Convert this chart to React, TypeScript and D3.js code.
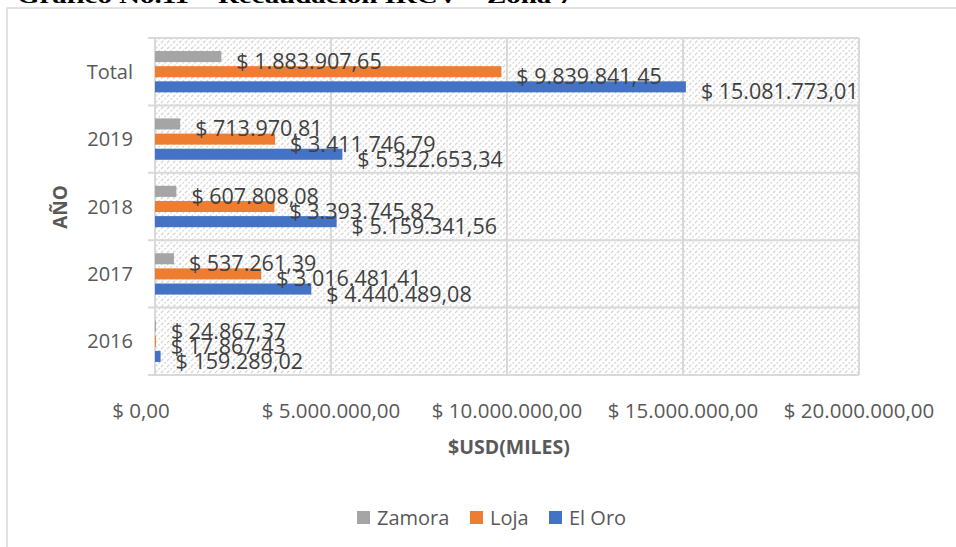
import React from "react";
import * as d3 from "d3";

const categories = ["Total", "2019", "2018", "2017", "2016"];
const seriesNames = ["Zamora", "Loja", "El Oro"];
const zamora = [1883907.65, 713970.81, 607808.08, 537261.39, 24867.37];
const loja = [9839841.45, 3411746.79, 3393745.82, 3016481.41, 17867.43];
const elOro = [15081773.01, 5322653.34, 5159341.56, 4440489.08, 159289.02];
const colors = ["#A5A5A5", "#ED7D31", "#4472C4"];
const xTicks = [0, 5000000, 10000000, 15000000, 20000000];
const xTickLabels = ["$ 0,00", "$ 5.000.000,00", "$ 10.000.000,00", "$ 15.000.000,00", "$ 20.000.000,00"];
const dataLabels = [
  ["$ 1.883.907,65", "$ 713.970,81", "$ 607.808,08", "$ 537.261,39", "$ 24.867,37"],
  ["$ 9.839.841,45", "$ 3.411.746,79", "$ 3.393.745,82", "$ 3.016.481,41", "$ 17.867,43"],
  ["$ 15.081.773,01", "$ 5.322.653,34", "$ 5.159.341,56", "$ 4.440.489,08", "$ 159.289,02"],
];
const title = "Gráfico No.11 – Recaudación IRCV – Zona 7";

export default function App() {
  const W = 956, H = 547;
  const left = 155, right = 859, top = 38, bottom = 375;
  const x = d3.scaleLinear().domain([0, 20000000]).range([left, right]);
  const y = d3.scaleBand().domain(categories).range([top, bottom]).padding(0);
  const inner = d3.scaleBand().domain(seriesNames).range([0, y.bandwidth()]).paddingInner(0.27).paddingOuter(0.86);
  const values = [zamora, loja, elOro];
  const font = "'Open Sans', 'DejaVu Sans', sans-serif";
  const grid = "#d9d9d9";

  return (
    <svg width={W} height={H} style={{ position: "absolute", left: 0, top: 0, background: "#fff" }} fontFamily={font}>
      <defs>
        <pattern id="hatch" width="6" height="6" patternUnits="userSpaceOnUse">
          <rect width="6" height="6" fill="#ffffff" />
          <path d="M0,6 L6,0" stroke="#d6d6d6" strokeWidth="1.3" strokeDasharray="2,1.5" />
          <path d="M-1,1 L1,-1 M5,7 L7,5" stroke="#d6d6d6" strokeWidth="1.3" />
        </pattern>
      </defs>
      <text x={17} y={3} fontFamily="'Liberation Serif', serif" fontWeight="bold" fontSize={22} fill="#000" textLength={556} lengthAdjust="spacingAndGlyphs">{title}</text>
      <rect x={7} y={8} width={W + 20} height={H + 20} fill="none" stroke={grid} strokeWidth={1.5} />
      <rect x={left} y={top} width={right - left} height={bottom - top} fill="url(#hatch)" />
      {xTicks.map((t, i) => (
        <line key={"g" + i} x1={x(t)} x2={x(t)} y1={top} y2={bottom} stroke={grid} strokeWidth={2} />
      ))}
      {categories.map((c, i) => (
        <line key={"h" + i} x1={left - 7} x2={right} y1={(y(c) as number)} y2={(y(c) as number)} stroke={grid} strokeWidth={2} />
      ))}
      <line x1={left - 7} x2={right} y1={bottom} y2={bottom} stroke={grid} strokeWidth={2} />
      {categories.map((c, ci) =>
        seriesNames.map((s, si) => {
          const by = (y(c) as number) + (inner(s) as number);
          return (
            <rect key={c + s} x={x(0)} y={by} width={Math.max(1, x(values[si][ci]) - x(0))} height={inner.bandwidth()} fill={colors[si]} />
          );
        })
      )}
      {categories.map((c, ci) =>
        seriesNames.map((s, si) => {
          const by = (y(c) as number) + (inner(s) as number) + inner.bandwidth() / 2;
          return (
            <text key={"l" + c + s} x={x(values[si][ci]) + 15} y={by + 5} dy="0.35em" fontSize={21.5} fill="#404040">
              {dataLabels[si][ci]}
            </text>
          );
        })
      )}
      {categories.map((c) => (
        <text key={"c" + c} x={133} y={(y(c) as number) + y.bandwidth() / 2} dy="0.35em" textAnchor="end" fontSize={20} fill="#595959">{c}</text>
      ))}
      {xTicks.map((t, i) => (
        <text key={"t" + i} x={x(t) - (i === 0 ? 14 : 0)} y={411} dy="0.35em" textAnchor="middle" fontSize={20.5} fill="#595959">{xTickLabels[i]}</text>
      ))}
      <text x={509} y={447} dy="0.35em" textAnchor="middle" fontSize={19.5} fontWeight="bold" fill="#595959">$USD(MILES)</text>
      <text transform="translate(60,207) rotate(-90)" dy="0.35em" textAnchor="middle" fontSize={19} fontWeight="bold" fill="#595959">AÑO</text>
      {[{ n: "Zamora", x: 357, c: colors[0] }, { n: "Loja", x: 470, c: colors[1] }, { n: "El Oro", x: 549, c: colors[2] }].map((l) => (
        <g key={l.n}>
          <rect x={l.x} y={511} width={13} height={13} fill={l.c} />
          <text x={l.x + 20} y={518} dy="0.35em" fontSize={20} fill="#595959">{l.n}</text>
        </g>
      ))}
    </svg>
  );
}
